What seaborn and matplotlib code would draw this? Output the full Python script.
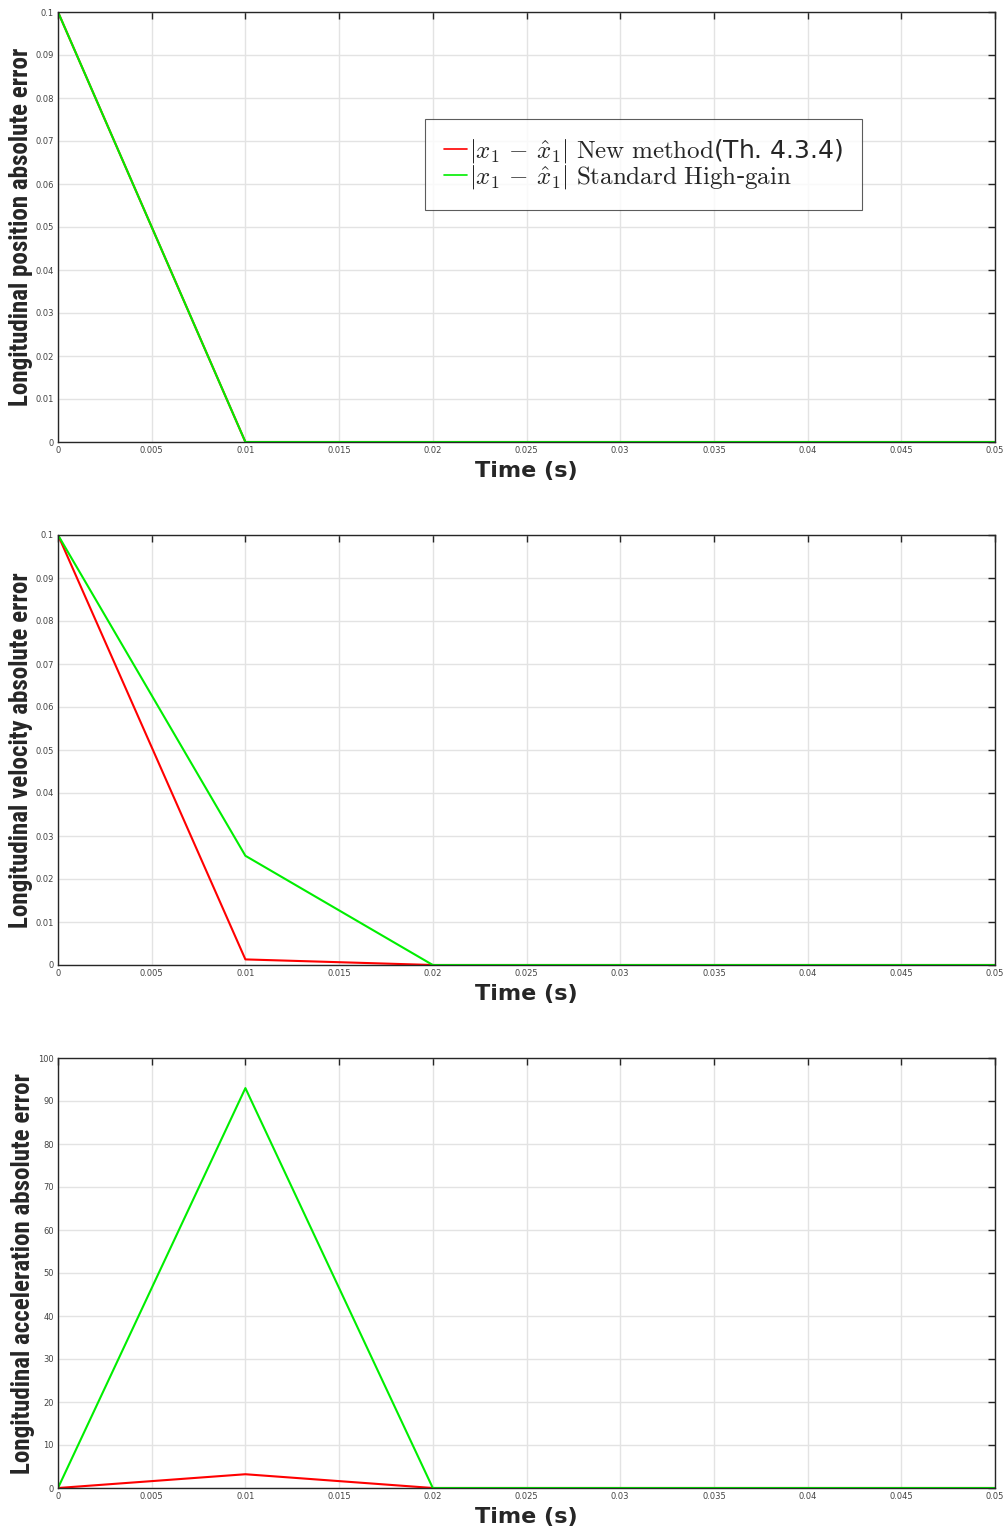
import matplotlib
matplotlib.use("Agg")
import matplotlib.pyplot as plt
from matplotlib import font_manager
import seaborn as sns
import pandas as pd

sns.set_theme(style="whitegrid")
plt.rcParams["font.family"] = ["DejaVu Sans"]
plt.rcParams["mathtext.fontset"] = "cm"

# Sampling instants (s)
time = [0.0, 0.01, 0.02, 0.03, 0.04, 0.05]

# Position error
pos_new = [0.1, 0.0, 0.0, 0.0, 0.0, 0.0]
pos_std = [0.1, 0.0, 0.0, 0.0, 0.0, 0.0]

# Velocity error
vel_new = [0.1, 0.0013, 0.0, 0.0, 0.0, 0.0]
vel_std = [0.1, 0.0254, 0.0, 0.0, 0.0, 0.0]

# Acceleration error
acc_new = [0.0, 3.2, 0.0, 0.0, 0.0, 0.0]
acc_std = [0.0, 93.0, 0.0, 0.0, 0.0, 0.0]

x_ticks = [0, 0.005, 0.01, 0.015, 0.02, 0.025, 0.03, 0.035, 0.04, 0.045, 0.05]
x_tick_labels = ["0", "0.005", "0.01", "0.015", "0.02", "0.025", "0.03", "0.035", "0.04", "0.045", "0.05"]
small_y_ticks = [0, 0.01, 0.02, 0.03, 0.04, 0.05, 0.06, 0.07, 0.08, 0.09, 0.1]
small_y_labels = ["0", "0.01", "0.02", "0.03", "0.04", "0.05", "0.06", "0.07", "0.08", "0.09", "0.1"]
big_y_ticks = list(range(0, 101, 10))
big_y_labels = [str(v) for v in big_y_ticks]

label_new = r"$|x_1\,-\,\hat{x}_1|\ \mathrm{New\ method}$(Th. 4.3.4)"
label_std = r"$|x_1\,-\,\hat{x}_1|\ \mathrm{Standard\ High}$-$\mathrm{gain}$"

# Narrow sans for the vertical axis titles
available = {f.name for f in font_manager.fontManager.ttflist}
narrow_candidates = ["Liberation Sans Narrow", "Arial Narrow", "Roboto Condensed",
                     "Archivo Narrow", "Fira Sans Condensed", "Open Sans Condensed",
                     "Sofia Sans Condensed", "Saira SemiCondensed"]
narrow = next((n for n in narrow_candidates if n in available), "DejaVu Sans")

panels = [
    ("Longitudinal position absolute error", pos_new, pos_std, (0, 0.1), small_y_ticks, small_y_labels, True),
    ("Longitudinal velocity absolute error", vel_new, vel_std, (0, 0.1), small_y_ticks, small_y_labels, False),
    ("Longitudinal acceleration absolute error", acc_new, acc_std, (0, 100), big_y_ticks, big_y_labels, False),
]

fig = plt.figure(figsize=(10.08, 15.28), dpi=100)
fig.patch.set_facecolor("white")

left, width, height = 58 / 1008, 937 / 1008, 430 / 1528
bottoms = [1 - 442 / 1528, 1 - 965 / 1528, 1 - 1488 / 1528]

for (ylabel, new, std, ylim, yt, ytl, show_legend), b in zip(panels, bottoms):
    ax = fig.add_axes([left, b, width, height])
    ax.set_facecolor("white")
    df = pd.DataFrame({
        "t": time * 2,
        "err": new + std,
        "series": [label_new] * len(time) + [label_std] * len(time),
    })
    sns.lineplot(data=df, x="t", y="err", hue="series",
                 palette={label_new: "#ff0000", label_std: "#00ee00"},
                 linewidth=1.5, ax=ax, legend=show_legend)
    ax.set_xlim(0, 0.05)
    ax.set_ylim(*ylim)
    ax.set_xticks(x_ticks)
    ax.set_xticklabels(x_tick_labels)
    ax.set_yticks(yt)
    ax.set_yticklabels(ytl)
    ax.grid(True, color="#e3e3e3", linewidth=1.0)
    ax.tick_params(axis="both", which="both", direction="in", length=5, width=1.0,
                   labelsize=6, colors="#262626", labelcolor="#444444",
                   top=True, right=True, pad=3)
    for sp in ax.spines.values():
        sp.set_color("#262626")
        sp.set_linewidth(1.0)
    ax.set_xlabel("Time (s)", fontsize=16, fontweight="bold", color="#262626", labelpad=4)
    ax.set_ylabel(ylabel, fontsize=18, fontweight="bold", color="#262626",
                  family=[narrow, "DejaVu Sans"], labelpad=2)
    if show_legend:
        leg = ax.legend(loc="upper left", bbox_to_anchor=(0.392, 0.752),
                        fontsize=18, frameon=True, fancybox=False,
                        edgecolor="#333333", handlelength=0.9, handletextpad=0.1,
                        borderpad=0.75, labelspacing=-0.1, borderaxespad=0)
        leg.get_frame().set_linewidth(0.8)
        for line in leg.get_lines():
            line.set_linewidth(1.2)

fig.savefig("out.png", dpi=100, facecolor="white")
